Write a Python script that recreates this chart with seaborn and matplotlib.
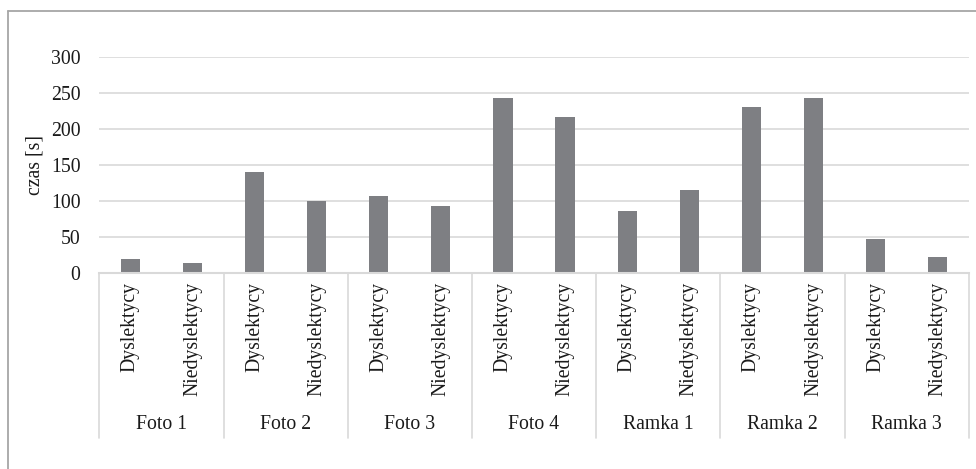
import matplotlib
matplotlib.use("Agg")
import matplotlib.pyplot as plt
import matplotlib.transforms as mtransforms
from matplotlib.lines import Line2D
import pandas as pd
import seaborn as sns

# Reading times per stimulus and reader group
groups = ["Foto 1", "Foto 2", "Foto 3", "Foto 4", "Ramka 1", "Ramka 2", "Ramka 3"]
subgroups = ["Dyslektycy", "Niedyslektycy"]
dyslektycy = [20, 140, 107, 243, 87, 231, 47]
niedyslektycy = [14, 101, 93, 217, 116, 244, 22]
y_ticks = [0, 50, 100, 150, 200, 250, 300]
y_label = "czas [s]"

rows = []
for g, d, n in zip(groups, dyslektycy, niedyslektycy):
    rows.append({"key": f"{g}|{subgroups[0]}", "grupa": g, "podgrupa": subgroups[0], "czas": d})
    rows.append({"key": f"{g}|{subgroups[1]}", "grupa": g, "podgrupa": subgroups[1], "czas": n})
df = pd.DataFrame(rows)

sns.set_style("white")
plt.rcParams["font.family"] = ["Liberation Serif", "DejaVu Serif"]
text_color = "#1a1a1a"
grid_color = "#d9d9d9"
bar_color = "#7e7f83"
fs = 14.2

fig = plt.figure(figsize=(9.76, 4.69), dpi=100)
W, H = 976, 469
left_px, right_px = 99.3, 968.7
top_px, zero_px = 57.3, 273.3
ax = fig.add_axes([left_px / W, (H - zero_px) / H,
                   (right_px - left_px) / W, (zero_px - top_px) / H])

sns.barplot(data=df, x="key", y="czas", order=list(df["key"]), color=bar_color,
            saturation=1, width=0.31, errorbar=None, linewidth=0, ax=ax)

ax.set_xlim(-0.5, len(df) - 0.5)
ax.set_ylim(y_ticks[0], y_ticks[-1])
ax.set_yticks(y_ticks)
ax.set_yticklabels([str(t) for t in y_ticks], fontsize=fs, color=text_color)
ax.set_xticks(range(len(df)))
ax.set_xticklabels(list(df["podgrupa"]), rotation=90, fontsize=fs, color=text_color)
ax.tick_params(axis="x", length=0, pad=6)
ax.tick_params(axis="y", length=0, pad=13.5)

ax.set_xlabel("")
ax.set_ylabel(y_label, fontsize=fs, color=text_color, va="center")
ax.yaxis.set_label_coords(-0.074, 0.5)

for side in ["top", "right", "left"]:
    ax.spines[side].set_visible(False)
ax.spines["bottom"].set_color(grid_color)
ax.spines["bottom"].set_linewidth(1.5)

ax.yaxis.grid(True, color=grid_color, linewidth=1.2)
ax.xaxis.grid(False)
ax.set_axisbelow(True)

# Multi-level category axis: group separators and group names
trans = mtransforms.blended_transform_factory(ax.transData, ax.transAxes)
sep_depth = -(437.7 - zero_px) / (zero_px - top_px)
label_y = -(424 - zero_px) / (zero_px - top_px)
for i in range(len(groups) + 1):
    xb = -0.5 + 2 * i
    ax.plot([xb, xb], [0, sep_depth], transform=trans, color=grid_color,
            linewidth=1.2, clip_on=False)
for i, g in enumerate(groups):
    ax.text(2 * i + 0.5, label_y, g, transform=trans, ha="center", va="center",
            fontsize=fs, color=text_color)

# Chart frame (top and left edges)
frame_color = "#a6a6a6"
fig.add_artist(Line2D([8 / W, 1.0], [1 - 11 / H, 1 - 11 / H], transform=fig.transFigure,
                      color=frame_color, linewidth=1.3))
fig.add_artist(Line2D([8 / W, 8 / W], [0.0, 1 - 11 / H], transform=fig.transFigure,
                      color=frame_color, linewidth=1.3))

fig.savefig("out.png", dpi=100)
